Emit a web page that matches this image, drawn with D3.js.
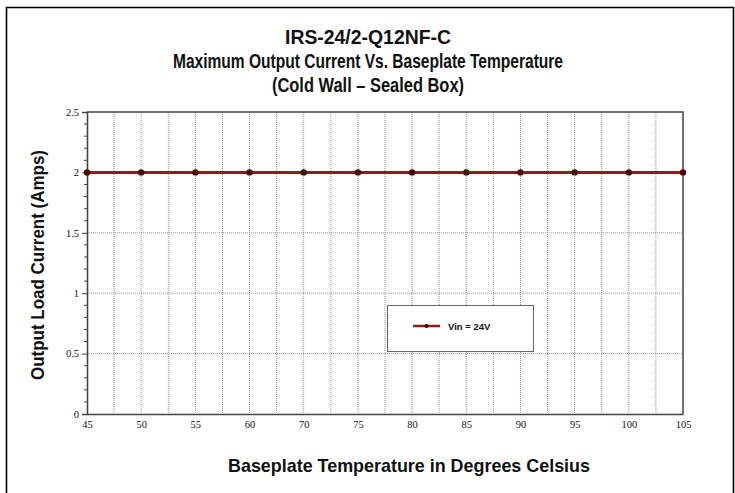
<!DOCTYPE html>
<html><head><meta charset="utf-8">
<script src="https://cdn.jsdelivr.net/npm/d3@7"></script>
<style>body{margin:0;background:#fff}svg{display:block}</style>
</head><body>
<svg id="c" width="735" height="493"></svg>
<script>
const temps = ["45","50","55","60","70","75","80","85","90","95","100","105"];
const current = [2,2,2,2,2,2,2,2,2,2,2,2];
const yTicks = [0,0.5,1,1.5,2,2.5];
const titleLines = ["IRS-24/2-Q12NF-C","Maximum Output Current Vs. Baseplate Temperature","(Cold Wall \u2013 Sealed Box)"];
const titleWidths = [166,390,192];
const seriesName = "Vin = 24V";

const svg = d3.select("#c");
const L=87,R=683,T=112,B=414;
const sans = "'Liberation Sans',Arial,sans-serif";

// outer frame
svg.append("path").attr("d","M6.5,500 V7.5 H733.5 V500").attr("fill","none").attr("stroke","#000").attr("stroke-width",1.6);

const x = d3.scalePoint().domain(temps).range([L,R]).padding(0);
const y = d3.scaleLinear().domain([0,2.5]).range([B,T]);

// titles
svg.append("g").selectAll("text").data(titleLines).join("text")
  .attr("x",368).attr("y",(d,i)=>43.5+i*24).attr("text-anchor","middle")
  .attr("textLength",(d,i)=>titleWidths[i]).attr("lengthAdjust","spacingAndGlyphs")
  .attr("font-family",sans).attr("font-weight","bold").attr("font-size",20).attr("fill","#111").text(d=>d);

// vertical gridlines (categories + midpoints)
const step = x.step();
const vx = [];
temps.forEach((t,i)=>{ if(i>0 && i<temps.length-1) vx.push(x(t)); if(i<temps.length-1) vx.push(x(t)+step/2); });
svg.append("g").selectAll("line").data(vx).join("line")
  .attr("x1",d=>d).attr("x2",d=>d).attr("y1",T).attr("y2",B)
  .attr("stroke","#777").attr("stroke-width",0.8).attr("stroke-dasharray","1,1");
// horizontal gridlines
svg.append("g").selectAll("line").data(yTicks.filter(v=>v>0&&v<2.5)).join("line")
  .attr("x1",L).attr("x2",R).attr("y1",d=>y(d)).attr("y2",d=>y(d))
  .attr("stroke","#777").attr("stroke-width",0.8).attr("stroke-dasharray","1,1");

// plot border top/right
svg.append("path").attr("d",`M${L},${T} H${R} V${B}`).attr("fill","none").attr("stroke","#444").attr("stroke-width",1.5);

// y axis
const yAx = svg.append("g").attr("transform",`translate(${L},0)`)
  .call(d3.axisLeft(y).tickValues(yTicks).tickFormat(d3.format("")).tickSize(5).tickPadding(3));
const minor = d3.range(0,2.5001,0.1).map(v=>+v.toFixed(1)).filter(v=>!yTicks.includes(v));
svg.append("g").selectAll("line").data(minor).join("line")
  .attr("x1",L-3).attr("x2",L).attr("y1",d=>y(d)).attr("y2",d=>y(d)).attr("stroke","#444").attr("stroke-width",1);
// x axis
const xAx = svg.append("g").attr("transform",`translate(0,${B})`)
  .call(d3.axisBottom(x).tickSize(0).tickPadding(7));
[yAx,xAx].forEach(g=>{
  g.select(".domain").attr("stroke","#444").attr("stroke-width",1.6);
  g.selectAll(".tick line").attr("stroke","#444");
  g.selectAll("text").attr("font-family","'Liberation Serif','Times New Roman',serif").attr("font-size",10.5).attr("fill","#111");
});

// axis titles
svg.append("text").attr("transform","translate(44,265) rotate(-90)").attr("text-anchor","middle")
  .attr("textLength",230).attr("lengthAdjust","spacingAndGlyphs")
  .attr("font-family",sans).attr("font-weight","bold").attr("font-size",19).attr("fill","#111").text("Output Load Current (Amps)");
svg.append("text").attr("x",409).attr("y",472).attr("text-anchor","middle")
  .attr("textLength",362).attr("lengthAdjust","spacingAndGlyphs")
  .attr("font-family",sans).attr("font-weight","bold").attr("font-size",19).attr("fill","#111").text("Baseplate Temperature in Degrees Celsius");

// series
const pts = temps.map((t,i)=>({t,v:current[i]}));
svg.append("path").datum(pts)
  .attr("d",d3.line().x(d=>x(d.t)).y(d=>y(d.v)))
  .attr("fill","none").attr("stroke","#8c1d1d").attr("stroke-width",3);
svg.append("g").selectAll("circle").data(pts).join("circle")
  .attr("cx",d=>x(d.t)).attr("cy",d=>y(d.v)).attr("r",3.2).attr("fill","#4a0505");

// legend
const lg = svg.append("g");
lg.append("rect").attr("x",387.5).attr("y",305.5).attr("width",146).attr("height",46)
  .attr("fill","#fff").attr("stroke","#666").attr("stroke-width",1);
lg.append("line").attr("x1",413).attr("x2",440).attr("y1",326).attr("y2",326).attr("stroke","#8c1d1d").attr("stroke-width",2.5);
lg.append("circle").attr("cx",426.5).attr("cy",326).attr("r",2).attr("fill","#3a0505");
lg.append("text").attr("x",448).attr("y",329.5).attr("font-family",sans).attr("font-weight","bold")
  .attr("font-size",9.5).attr("fill","#111").text(seriesName);
</script>
</body></html>
